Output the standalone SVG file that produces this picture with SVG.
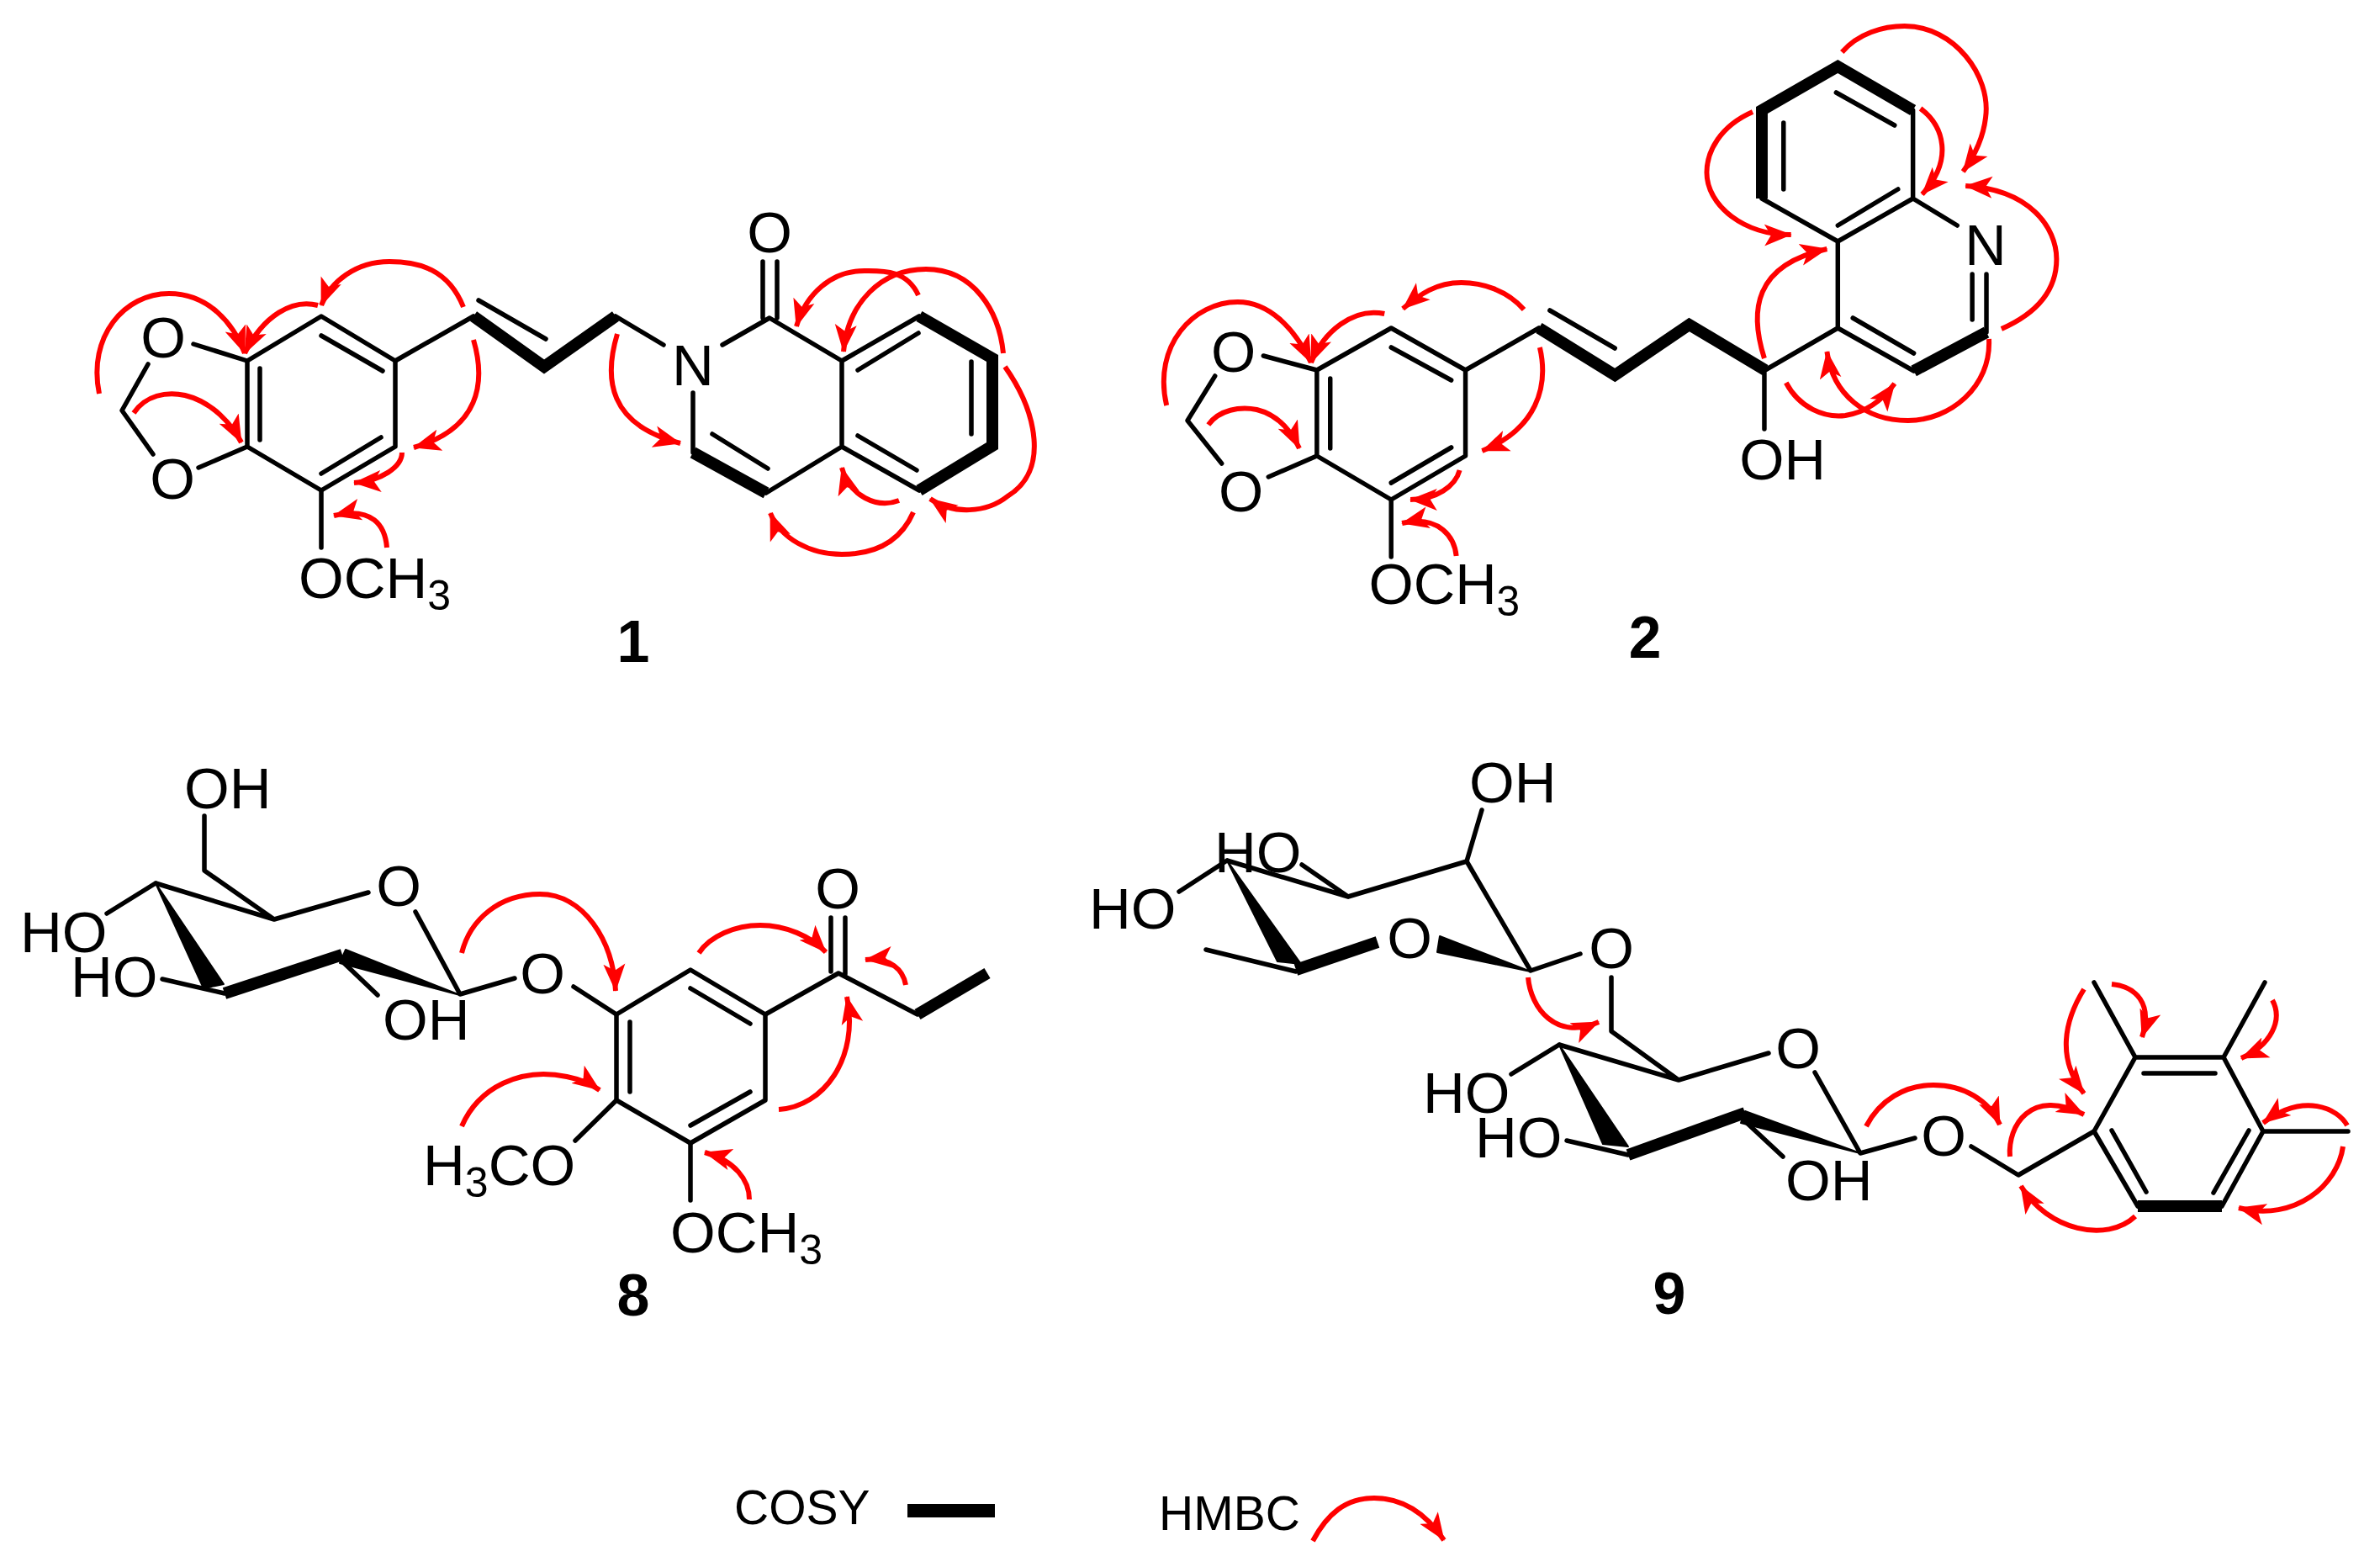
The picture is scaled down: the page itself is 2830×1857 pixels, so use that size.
<svg xmlns="http://www.w3.org/2000/svg" width="2830" height="1857" viewBox="0 0 2830 1857">
<style>
.b{fill:none;stroke:#000;stroke-width:5.5;stroke-linecap:round;stroke-linejoin:round}
.t{fill:none;stroke:#000;stroke-width:14;stroke-linejoin:miter;stroke-miterlimit:4}
.w{fill:#000;stroke:#000;stroke-width:2;stroke-linejoin:round}
.a{fill:none;stroke:#f00;stroke-width:6;marker-end:url(#h)}
.l{font-family:"Liberation Sans",Arial,sans-serif;font-size:69px;fill:#000}
.m{text-anchor:middle}
.n{font-family:"Liberation Sans",Arial,sans-serif;font-size:70px;font-weight:bold;text-anchor:middle;fill:#000}
.k{font-family:"Liberation Sans",Arial,sans-serif;font-size:57px;fill:#000}
.s{font-size:50px}
</style>
<defs>
<marker id="h" markerUnits="userSpaceOnUse" markerWidth="36" markerHeight="30" refX="32" refY="15" orient="auto" viewBox="0 0 36 30">
<path d="M0,2 L33,15 L0,28 L8,15 Z" fill="#f00"/>
</marker>
</defs>
<rect width="2830" height="1857" fill="#fff"/>

<g id="compound-1" transform="translate(-2,0)">
<path class="b" d="M384,376 L472,429 L472,531 L384,583 L296,531 L296,429 Z"/>
<path class="b" d="M384,399 L457,441 M311,438 L311,523 M384,563 L455,520"/>
<path class="b" d="M472,429 L565,376 M571,357 L651,403 M734,376 L791,410 M861,410 L917,378 L1003,429 L1003,531 L913,586 M826,467 L826,538 M909,311 L909,378 M926,311 L926,378 M1003,429 L1095,376 M1022,440 L1094,396 M1157,430 L1157,516 M1003,531 L1095,583 M1022,518 L1092,559 M849,516 L915,557"/>
<path class="b" d="M232,409 L296,429 M178,433 L147,488 L184,540 M238,556 L296,531 M384,583 L384,651"/>
<path class="t" d="M565,376 L649,436 L734,376"/>
<path class="t" d="M826,538 L913,586"/>
<path class="t" d="M1095,376 L1182,426 L1182,530 L1095,583"/>
<text class="l m" x="917" y="300">O</text>
<text class="l m" x="826" y="458">N</text>
<text class="l m" x="196" y="425">O</text>
<text class="l m" x="207" y="593">O</text>
<text class="l" x="357" y="711">OCH<tspan class="s" dy="14">3</tspan></text>
<text class="n" x="755" y="787">1</text>
</g>

<g id="compound-2" transform="matrix(.9927 0 0 1 10.3 0)">
<path class="b" d="M1656,390 L1745,440 L1745,542 L1656,594 L1567,542 L1567,440 Z"/>
<path class="b" d="M1656,413 L1728,452 M1583,450 L1583,533 M1656,574 L1728,532"/>
<path class="b" d="M1745,440 L1833,390 M1846,369 L1924,414 M2104,440 L2191,390 L2191,287 L2281,236 L2281,131 M2191,287 L2100,236 M2281,236 L2334,268 M2369,326 L2369,395 M2352,326 L2352,380 M2191,390 L2282,441 M2209,378 L2282,420 M2189,110 L2259,149 M2126,146 L2126,225 M2191,268 L2263,225 M2103,440 L2103,510"/>
<path class="b" d="M1503,423 L1567,440 M1445,447 L1412,500 L1453,551 M1509,567 L1567,542 M1656,594 L1656,662"/>
<path class="t" d="M1833,390 L1924,446 L2013,386 L2104,440"/>
<path class="t" d="M2282,441 L2369,395"/>
<path class="t" d="M2100,236 L2100,131 L2191,79 L2281,131"/>
<text class="l m" x="2368" y="315">N</text>
<text class="l" x="2073" y="570">OH</text>
<text class="l m" x="1467" y="442">O</text>
<text class="l m" x="1476" y="608">O</text>
<text class="l" x="1629" y="718">OCH<tspan class="s" dy="14">3</tspan></text>
<text class="n" x="1960" y="782">2</text>
</g>

<g id="compound-8" transform="translate(-6,-2)">
<path class="b" d="M332,1095 L444,1063 M500,1086 L553,1184 L618,1165 M191,1052 L332,1095 L249,1037 L249,972 M191,1052 L133,1088 M273,1183 L199,1166 M413,1145 L455,1185 M688,1175 L739,1208"/>
<path class="w" d="M191,1052 L248,1177 L272,1172 Z"/>
<path class="t" d="M273,1183 L413,1137"/>
<path class="w" d="M417,1131 L553,1185 L410,1147 Z"/>
<path class="b" d="M739,1208 L827,1155 L916,1208 L916,1310 L827,1361 L739,1310 Z"/>
<path class="b" d="M827,1177 L898,1219 M755,1217 L755,1300 M827,1340 L898,1300"/>
<path class="b" d="M916,1208 L1003,1159 L1097,1208 M994,1093 L994,1157 M1011,1093 L1011,1160 M827,1361 L827,1429 M739,1310 L690,1358"/>
<path class="t" d="M1097,1208 L1180,1159"/>
<text class="l" x="225" y="963">OH</text>
<text class="l m" x="480" y="1079">O</text>
<text class="l" x="30" y="1134">HO</text>
<text class="l" x="90" y="1187">HO</text>
<text class="l" x="461" y="1238">OH</text>
<text class="l m" x="651" y="1183">O</text>
<text class="l m" x="1002" y="1082">O</text>
<text class="l" x="803" y="1491">OCH<tspan class="s" dy="14">3</tspan></text>
<text class="l" x="509" y="1411">H<tspan class="s" dy="14">3</tspan><tspan dy="-14">CO</tspan></text>
<text class="n" x="759" y="1566">8</text>
</g>

<g id="compound-9" transform="translate(-5,-2)">
<path class="b" d="M1464,1025 L1608,1068 L1749,1026 L1825,1156 L1884,1136 M1749,1026 L1767,965 M1553,1030 L1608,1068 M1464,1025 L1407,1062 M1546,1157 L1439,1131 M1921,1164 L1921,1228 L2001,1286 L2108,1254 M2163,1277 L2217,1373 L2282,1355 M1859,1244 L2001,1286 M1859,1244 L1802,1279 M1941,1375 L1868,1358 M2080,1335 L2125,1377 M2349,1365 L2405,1399 L2495,1347"/>
<path class="w" d="M1464,1025 L1524,1145 L1552,1148 Z"/>
<path class="t" d="M1546,1155 L1643,1122"/>
<path class="w" d="M1717,1115 L1714,1134 L1825,1157 Z"/>
<path class="w" d="M1859,1244 L1911,1362 L1941,1365 Z"/>
<path class="t" d="M1941,1375 L2080,1325"/>
<path class="w" d="M2080,1323 L2075,1337 L2217,1373 Z"/>
<path class="b" d="M2495,1347 L2544,1259 L2649,1259 L2696,1347 L2647,1436 M2547,1436 L2495,1347 M2554,1278 L2639,1278 M2516,1346 L2557,1419 M2679,1346 L2637,1420 M2544,1259 L2495,1170 M2649,1259 L2698,1170 M2696,1347 L2797,1347"/>
<path class="t" d="M2547,1436 L2647,1436"/>
<text class="l" x="1752" y="956">OH</text>
<text class="l" x="1449" y="1039">HO</text>
<text class="l" x="1300" y="1106">HO</text>
<text class="l m" x="1681" y="1141">O</text>
<text class="l m" x="1921" y="1153">O</text>
<text class="l m" x="2143" y="1272">O</text>
<text class="l" x="1697" y="1325">HO</text>
<text class="l" x="1759" y="1378">HO</text>
<text class="l" x="2128" y="1429">OH</text>
<text class="l m" x="2316" y="1376">O</text>
<text class="n" x="1990" y="1564">9</text>
</g>

<g id="hmbc-connectors">
<g transform="translate(-2,0)">
<path class="a" d="M120,468 C106,400 150,349 203,349 C250,349 280,385 293,420"/>
<path class="a" d="M380,363 C350,355 315,375 293,420"/>
<path class="a" d="M553,365 C535,320 500,311 465,311 C425,311 395,335 384,363"/>
<path class="a" d="M565,404 C580,455 572,510 494,532"/>
<path class="a" d="M480,538 C480,555 455,572 423,574"/>
<path class="a" d="M462,651 C460,625 445,602 399,613"/>
<path class="a" d="M161,491 C175,470 200,465 222,470 C255,478 278,505 289,526"/>
<path class="a" d="M736,397 C720,450 725,505 811,527"/>
<path class="a" d="M1094,351 C1080,320 1050,322 1030,322 C990,322 960,350 949,388"/>
<path class="a" d="M1195,420 C1190,370 1160,320 1103,320 C1050,320 1010,360 1005,418"/>
<path class="a" d="M1197,436 C1235,490 1250,560 1200,590 C1175,610 1135,612 1108,593"/>
<path class="a" d="M1071,595 C1045,605 1012,590 1003,556"/>
<path class="a" d="M1088,609 C1070,650 1035,659 1003,659 C965,659 930,640 918,610"/>
</g>
<g transform="matrix(.9927 0 0 1 10.3 0)">
<path class="a" d="M1387,482 C1370,410 1420,359 1472,359 C1510,359 1540,390 1560,431"/>
<path class="a" d="M1648,373 C1610,365 1575,395 1560,431"/>
<path class="a" d="M1815,368 C1795,345 1765,336 1740,336 C1710,336 1690,350 1670,367"/>
<path class="a" d="M1834,413 C1845,460 1830,510 1765,536"/>
<path class="a" d="M1738,559 C1733,578 1710,594 1679,594"/>
<path class="a" d="M1734,661 C1732,640 1715,612 1669,622"/>
<path class="a" d="M1437,505 C1450,487 1475,483 1495,487 C1520,493 1535,510 1546,533"/>
<path class="a" d="M2196,62 C2215,40 2245,31 2271,31 C2330,31 2375,90 2368,140 C2365,165 2355,185 2341,204"/>
<path class="a" d="M2290,129 C2318,150 2330,190 2292,231"/>
<path class="a" d="M2089,133 C2050,150 2034,180 2034,205 C2034,245 2080,280 2135,279"/>
<path class="a" d="M2103,426 C2085,370 2090,315 2178,296"/>
<path class="a" d="M2387,391 C2435,370 2453,340 2453,308 C2453,270 2420,225 2344,221"/>
<path class="a" d="M2372,403 C2375,460 2325,500 2275,500 C2225,500 2185,470 2178,418"/>
<path class="a" d="M2129,455 C2145,485 2175,497 2200,494 C2225,490 2245,475 2259,456"/>
</g>
<g transform="translate(-6,-2)">
<path class="a" d="M555,1135 C565,1095 600,1065 648,1065 C700,1065 735,1120 738,1180"/>
<path class="a" d="M837,1135 C850,1115 880,1102 910,1102 C940,1102 970,1115 988,1134"/>
<path class="a" d="M1083,1173 C1080,1155 1065,1140 1035,1143"/>
<path class="a" d="M932,1321 C985,1318 1028,1260 1013,1187"/>
<path class="a" d="M555,1341 C575,1295 625,1270 680,1282 C695,1285 708,1290 719,1298"/>
<path class="a" d="M897,1428 C897,1405 880,1382 844,1372"/>
</g>
<g transform="translate(-5,-2)">
<path class="a" d="M1822,1164 C1825,1200 1855,1240 1906,1217"/>
<path class="a" d="M2224,1341 C2240,1310 2270,1292 2304,1292 C2340,1292 2370,1310 2383,1339"/>
<path class="a" d="M2395,1377 C2392,1340 2420,1295 2483,1327"/>
<path class="a" d="M2483,1178 C2460,1215 2450,1260 2483,1302"/>
<path class="a" d="M2516,1172 C2545,1175 2565,1195 2552,1235"/>
<path class="a" d="M2707,1191 C2720,1215 2705,1245 2670,1260"/>
<path class="a" d="M2796,1340 C2785,1320 2745,1300 2696,1337"/>
<path class="a" d="M2791,1365 C2785,1410 2735,1455 2667,1438"/>
<path class="a" d="M2544,1448 C2510,1480 2440,1465 2408,1412"/>
</g>
</g>

<g id="legend">
<text class="k" x="873" y="1812">COSY</text>
<rect x="1079" y="1788" width="104" height="16" fill="#000"/>
<text class="k" x="1378" y="1819">HMBC</text>
<path class="a" d="M1561,1832 C1578,1800 1600,1781 1634,1781 C1670,1781 1696,1800 1717,1831"/>
</g>
</svg>
